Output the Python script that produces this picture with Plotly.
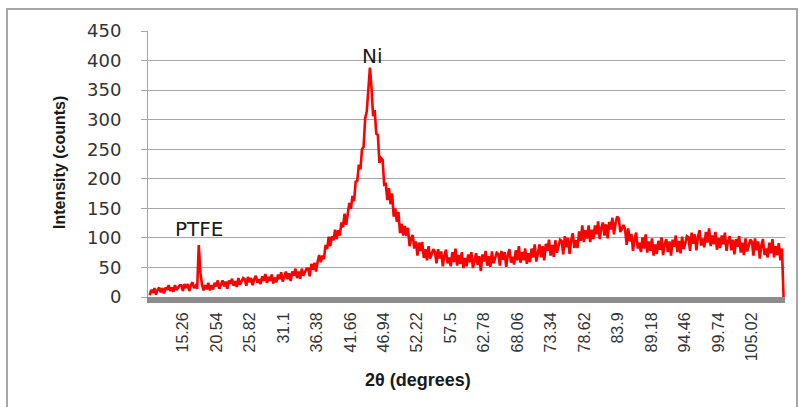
import plotly.graph_objects as go

# 2-theta scan grid (degrees) and the intensity
TWO_THETA_START = 10.0
TWO_THETA_STEP = 0.25

INTENSITY = [
    # 10.00 - 14.75
    3, 12, 7, 15, 4, 12, 16, 8, 15, 6, 16, 12, 20, 10, 16, 9, 20, 12, 16, 20,
    # 15.00 - 19.75 (PTFE peak)
    20, 10, 22, 15, 22, 10, 20, 25, 15, 19, 14, 88, 42, 21, 11, 20, 13, 24, 11, 20,
    # 20.00 - 24.75
    13, 24, 18, 28, 14, 23, 28, 18, 26, 14, 28, 22, 31, 19, 27, 17, 32, 21, 26, 32,
    # 25.00 - 29.75
    30, 19, 34, 25, 32, 20, 30, 36, 24, 30, 22, 35, 27, 39, 24, 34, 27, 38, 23, 33,
    # 30.00 - 34.75
    25, 38, 30, 42, 26, 36, 43, 30, 40, 27, 43, 36, 48, 32, 43, 31, 48, 36, 42, 48,
    # 35.00 - 39.75
    48, 35, 56, 46, 58, 43, 60, 71, 59, 70, 64, 88, 81, 102, 86, 103, 96, 114, 98, 113,
    # 40.00 - 44.75 (Ni peak)
    104, 126, 118, 141, 122, 143, 159, 149, 171, 162, 195, 196, 224, 216, 250, 254, 302, 314, 357, 388,
    # 45.00 - 49.75
    354, 306, 316, 276, 274, 227, 235, 232, 190, 191, 164, 184, 157, 175, 136, 150, 127, 144, 108, 124,
    # 50.00 - 54.75
    104, 120, 103, 117, 86, 99, 105, 82, 94, 70, 92, 78, 93, 66, 81, 62, 86, 65, 73, 81,
    # 55.00 - 59.75
    77, 57, 81, 65, 77, 52, 71, 80, 57, 67, 52, 76, 59, 82, 53, 71, 56, 76, 49, 66,
    # 60.00 - 64.75
    52, 72, 59, 76, 49, 65, 74, 54, 69, 44, 72, 60, 78, 53, 69, 51, 77, 57, 66, 75,
    # 65.00 - 69.75
    73, 53, 78, 63, 76, 51, 71, 81, 58, 68, 55, 79, 62, 86, 58, 76, 62, 82, 56, 74,
    # 70.00 - 74.75
    59, 82, 67, 89, 60, 79, 89, 67, 86, 62, 90, 78, 97, 70, 88, 68, 96, 75, 85, 97,
    # 75.00 - 79.75
    95, 72, 103, 84, 100, 73, 96, 108, 83, 96, 83, 111, 95, 121, 93, 113, 99, 121, 93, 114,
    # 80.00 - 84.75
    98, 121, 106, 128, 98, 117, 126, 104, 123, 99, 127, 114, 134, 106, 125, 136, 133, 110, 115, 122,
    # 85.00 - 89.75
    115, 88, 116, 94, 107, 78, 99, 109, 82, 92, 76, 101, 82, 106, 75, 94, 78, 99, 70, 89,
    # 90.00 - 94.75
    73, 95, 80, 101, 71, 89, 98, 76, 94, 70, 97, 85, 104, 76, 95, 74, 102, 81, 91, 103,
    # 95.00 - 99.75
    101, 78, 109, 90, 106, 79, 101, 113, 87, 99, 84, 110, 92, 116, 86, 104, 89, 110, 80, 100,
    # 100.00 - 104.75
    83, 104, 89, 109, 78, 95, 103, 79, 97, 72, 98, 85, 103, 75, 92, 71, 99, 77, 86, 97,
    # 105.00 - 109.75
    94, 70, 99, 79, 94, 65, 87, 98, 71, 82, 67, 92, 74, 98, 67, 86, 71, 91, 62, 82,
    # 110.00 (series drops to zero at the end)
    0,
]

X_TICK_LABELS = ["15.26", "20.54", "25.82", "31.1", "36.38", "41.66", "46.94", "52.22", "57.5",
                 "62.78", "68.06", "73.34", "78.62", "83.9", "89.18", "94.46", "99.74", "105.02"]
Y_TICKS = [0, 50, 100, 150, 200, 250, 300, 350, 400, 450]

two_theta = [TWO_THETA_START + i * TWO_THETA_STEP for i in range(len(INTENSITY))]

fig = go.Figure()
fig.add_trace(go.Scatter(
    x=two_theta, y=INTENSITY, mode='lines',
    line=dict(color='#ff0000', width=2.6),
    showlegend=False,
))

grey = '#a6a6a6'
fig.update_layout(
    width=803, height=407, autosize=False,
    margin=dict(l=148, r=18, t=31, b=110),
    paper_bgcolor='white', plot_bgcolor='white',
    xaxis=dict(
        range=[9.74, 110.23],
        tickvals=[float(t) for t in X_TICK_LABELS],
        ticktext=X_TICK_LABELS,
        tickangle=-90,
        ticks='',
        showgrid=False, zeroline=False,
        showline=True, linecolor='#8c8c8c', linewidth=6,
        tickfont=dict(family='Liberation Sans', size=16, color='#333333'),
        ticklabelstandoff=3,
    ),
    yaxis=dict(
        range=[0, 450],
        tickvals=Y_TICKS,
        ticks='outside', ticklen=6, tickcolor=grey, tickwidth=1,
        showgrid=True, gridcolor=grey, gridwidth=1,
        zeroline=False,
        showline=True, linecolor=grey, linewidth=1,
        tickfont=dict(family='DejaVu Sans', size=18, color='#333333'),
        ticklabelstandoff=16,
    ),
)

# axis titles placed where the reference puts them
fig.add_annotation(
    text='<b>Intensity (counts)</b>', textangle=-90,
    xref='paper', yref='paper', x=(59 - 148) / 637, y=(297 - 163) / 266,
    showarrow=False, xanchor='center', yanchor='middle',
    font=dict(family='Liberation Sans', size=16, color='#1a1a1a'),
)
fig.add_annotation(
    text='<b>2θ (degrees)</b>',
    xref='paper', yref='paper', x=(418 - 148) / 637, y=(297 - 380) / 266,
    showarrow=False, xanchor='center', yanchor='middle',
    font=dict(family='Liberation Sans', size=18, color='#1a1a1a'),
)

# peak labels
fig.add_annotation(text='PTFE', x=17.78, y=115, showarrow=False,
                   font=dict(family='DejaVu Sans', size=20, color='#1a1a1a'))
fig.add_annotation(text='Ni', x=45.2, y=407, showarrow=False,
                   font=dict(family='DejaVu Sans', size=20, color='#1a1a1a'))

# outer chart border
fig.add_shape(
    type='rect', xref='paper', yref='paper',
    x0=(7 - 148) / 637, x1=(797 - 148) / 637,
    y0=(297 - 420) / 266, y1=(297 - 9) / 266,
    line=dict(color=grey, width=2), fillcolor='rgba(0,0,0,0)', layer='below',
)

fig.write_html("out.html", config={'displayModeBar': False},
               post_script="document.body.style.margin='0';")
